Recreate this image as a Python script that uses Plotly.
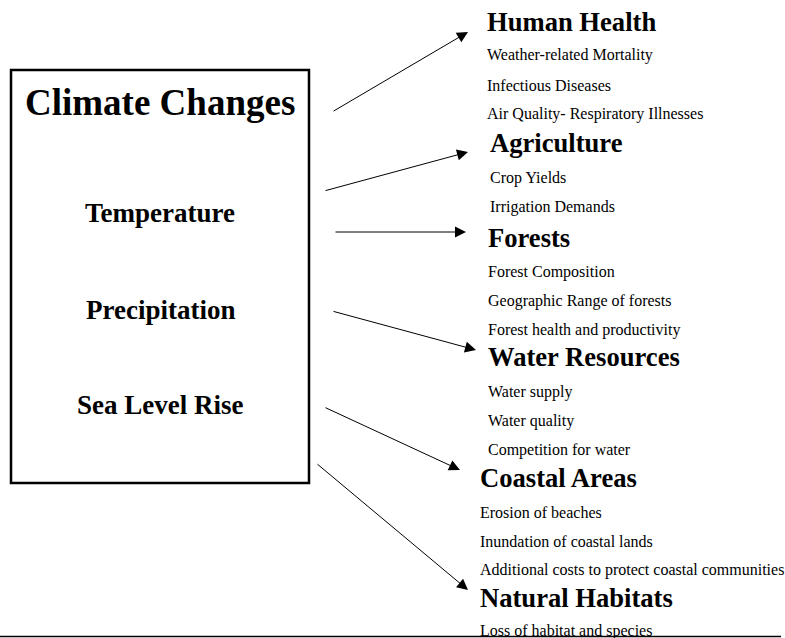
import plotly.graph_objects as go

# ---------------- data (text content) ----------------
title = "Climate Changes"
drivers = ["Temperature", "Precipitation", "Sea Level Rise"]
sectors = ["Human Health", "Agriculture", "Forests",
           "Water Resources", "Coastal Areas", "Natural Habitats"]
sector_items = [
    ["Weather-related Mortality", "Infectious Diseases", "Air Quality- Respiratory Illnesses"],
    ["Crop Yields", "Irrigation Demands"],
    ["Forest Composition", "Geographic Range of forests", "Forest health and productivity"],
    ["Water supply", "Water quality", "Competition for water"],
    ["Erosion of beaches", "Inundation of coastal lands",
     "Additional costs to protect coastal communities"],
    ["Loss of habitat and species"],
]

# ---------------- layout (positions in page pixels) ----------------
W, H = 785, 638
box = dict(x0=11, y0=70, x1=309, y1=483)
title_pos = (160, 102)
driver_y = [213, 310, 405]
sector_x = [485, 488, 486, 486, 478, 478]
sector_y = [22, 143, 238, 357, 478, 598]
item_y = [
    [55, 85, 114],
    [178, 207],
    [272, 301, 330],
    [392, 421, 450],
    [512, 541, 570],
    [631],
]
# arrows: (tail_x, tail_y, head_x, head_y)
arrows = [
    (332, 112, 468, 32),
    (324, 191, 468, 152),
    (334, 232, 466, 232),
    (332, 311, 476, 350),
    (324, 407, 460, 470),
    (316, 463, 468, 590),
]

FONT = "Liberation Serif, Times New Roman, serif"

fig = go.Figure()
fig.add_trace(go.Scatter(x=[0, W], y=[0, H], mode="markers",
                         marker=dict(opacity=0), hoverinfo="skip", showlegend=False))

fig.add_shape(type="rect", xref="x", yref="y", **box,
              line=dict(color="black", width=2.5), fillcolor="rgba(0,0,0,0)")
fig.add_shape(type="line", xref="x", yref="y", x0=0, y0=636.5, x1=781, y1=636.5,
              line=dict(color="black", width=1.5))

ann = []
ann.append(dict(x=title_pos[0], y=title_pos[1], text="<b>%s</b>" % title,
                xanchor="center", yanchor="middle", showarrow=False,
                font=dict(family=FONT, size=37, color="black")))
for name, y in zip(drivers, driver_y):
    ann.append(dict(x=160, y=y, text="<b>%s</b>" % name, xanchor="center",
                    yanchor="middle", showarrow=False,
                    font=dict(family=FONT, size=27, color="black")))
for name, sx, sy, items, iys in zip(sectors, sector_x, sector_y, sector_items, item_y):
    ann.append(dict(x=sx, y=sy, text="<b>%s</b>" % name, xanchor="left",
                    yanchor="middle", showarrow=False,
                    font=dict(family=FONT, size=26.6, color="black")))
    for it, iy in zip(items, iys):
        ann.append(dict(x=sx, y=iy, text=it, xanchor="left", yanchor="middle",
                        showarrow=False,
                        font=dict(family=FONT, size=16, color="black")))
for tx, ty, hx, hy in arrows:
    ann.append(dict(x=hx, y=hy, ax=tx, ay=ty, xref="x", yref="y",
                    axref="x", ayref="y", text="", showarrow=True,
                    arrowhead=2, arrowsize=2.2, arrowwidth=1, arrowcolor="black"))

fig.update_layout(
    width=W, height=H, margin=dict(l=0, r=0, t=0, b=0),
    paper_bgcolor="white", plot_bgcolor="white",
    xaxis=dict(range=[0, W], visible=False, fixedrange=True),
    yaxis=dict(range=[H, 0], visible=False, fixedrange=True),
    annotations=ann, showlegend=False,
)
fig.write_html("out.html", config={"displayModeBar": False},
               post_script="document.body.style.margin='0';"
                           "document.body.style.overflow='hidden';")
